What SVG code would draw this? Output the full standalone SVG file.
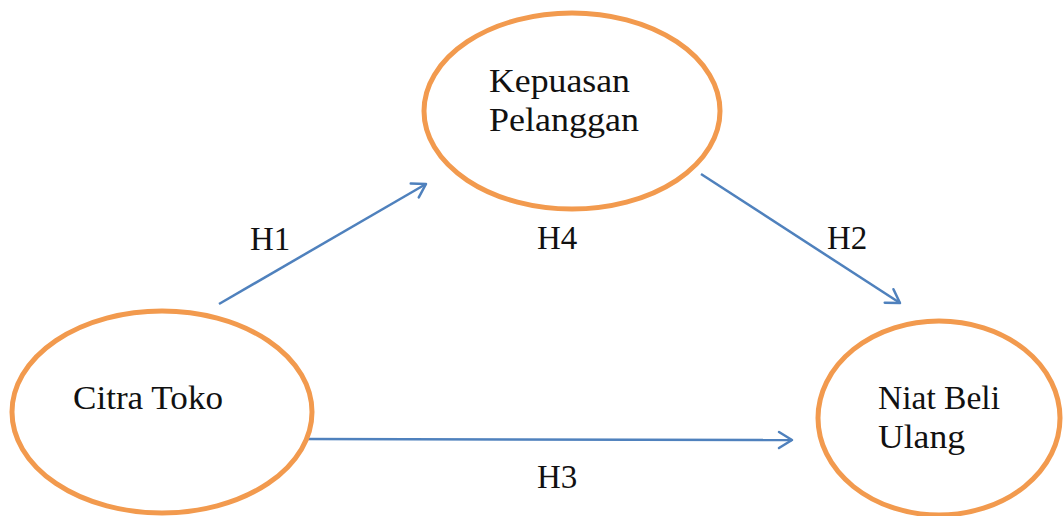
<svg xmlns="http://www.w3.org/2000/svg" width="1063" height="516" viewBox="0 0 1063 516">
<style>
.node ellipse{fill:#fff;stroke:#F29A4E;stroke-width:5}
text{font-family:"Liberation Serif","Times New Roman",serif;font-size:33px;fill:#111}
.conn line{stroke:#4F81BD;stroke-width:2.5;fill:none}
</style>
<defs>
<marker id="arr" viewBox="0 0 20 20" refX="18" refY="10" markerWidth="20" markerHeight="20" markerUnits="userSpaceOnUse" orient="auto">
<path d="M5,2 L18,10 L5,18" fill="none" stroke="#4F81BD" stroke-width="2.5" stroke-linecap="round" stroke-linejoin="round"/>
</marker>
</defs>
<rect width="1063" height="516" fill="#fff"/>
<g class="conn" id="connectors">
<line x1="219" y1="304" x2="426" y2="184" marker-end="url(#arr)"/>
<line x1="701" y1="174" x2="900" y2="303" marker-end="url(#arr)"/>
<line x1="306" y1="439" x2="792" y2="440" marker-end="url(#arr)"/>
</g>
<g class="node" id="kepuasan">
<ellipse cx="572" cy="111" rx="148" ry="98"/>
<text x="489" y="92" textLength="141" lengthAdjust="spacingAndGlyphs">Kepuasan</text>
<text x="489" y="131" textLength="150" lengthAdjust="spacingAndGlyphs">Pelanggan</text>
</g>
<g class="node" id="citra">
<ellipse cx="162" cy="412" rx="150" ry="101"/>
<text x="73" y="409" textLength="150" lengthAdjust="spacingAndGlyphs">Citra Toko</text>
</g>
<g class="node" id="niat">
<ellipse cx="939" cy="418" rx="121" ry="97"/>
<text x="878" y="409" textLength="122" lengthAdjust="spacingAndGlyphs">Niat Beli</text>
<text x="878" y="448" textLength="87" lengthAdjust="spacingAndGlyphs">Ulang</text>
</g>
<g id="labels">
<text x="250" y="250">H1</text>
<text x="537" y="249">H4</text>
<text x="827" y="249">H2</text>
<text x="537" y="488">H3</text>
</g>
</svg>
